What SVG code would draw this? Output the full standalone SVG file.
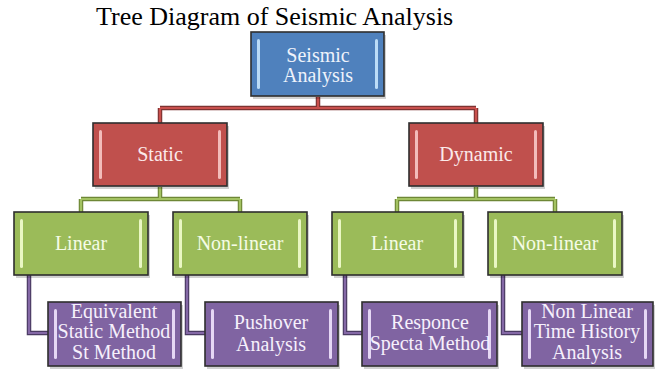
<svg xmlns="http://www.w3.org/2000/svg" width="657" height="372" viewBox="0 0 657 372" font-family="'Liberation Serif', 'Times New Roman', serif">
<style>
  .lbl { font-family: "Liberation Serif", "Times New Roman", serif; font-size: 20px; text-anchor: middle; }
  .title { font-family: "Liberation Serif", "Times New Roman", serif; font-size: 26px; fill: #000; }
  .box { stroke: #2e2e2e; stroke-width: 1.6; }
  .shadow { fill: #000; opacity: 0.18; }
  .blue { fill: #4f81bd; }
  .red { fill: #c0504d; }
  .green { fill: #9bbb59; }
  .purple { fill: #8064a2; }
  .hl-blue { fill: #bcdcf7; }
  .hl-red { fill: #f3bcba; }
  .hl-green { fill: #eaf7c4; }
  .hl-purple { fill: #e6d8f5; }
  .t-blue { fill: #eef3fb; }
  .t-red { fill: #fbeaea; }
  .t-green { fill: #f5fbe6; }
  .t-purple { fill: #f6f0fc; }
  .c-under { fill: none; stroke-width: 4.5; }
  .c-over { fill: none; stroke-width: 2.2; }
</style>

<text class="title" x="96" y="25" font-family="'Liberation Serif', serif">Tree Diagram of Seismic Analysis</text>

<g id="connectors">
  <path class="c-under" stroke="#7d3331" d="M318 97 V108 M160 108 H476 M160 108 V123 M476 108 V123"/>
  <path class="c-over" stroke="#c9504d" d="M318 97 V108 M160 108 H476 M160 108 V123 M476 108 V123"/>
  <path class="c-under" stroke="#6e8736" d="M160 187 V199 M81 199 H240 M81 199 V212 M240 199 V212 M476 187 V199 M397 199 H555 M397 199 V212 M555 199 V212"/>
  <path class="c-over" stroke="#a3c262" d="M160 187 V199 M81 199 H240 M81 199 V212 M240 199 V212 M476 187 V199 M397 199 H555 M397 199 V212 M555 199 V212"/>
  <path class="c-under" stroke="#4a3a62" d="M29 275 V333 H48 M187 275 V333 H205 M345 275 V333 H362 M503 275 V333 H522"/>
  <path class="c-over" stroke="#8468a6" d="M29 275 V333 H48 M187 275 V333 H205 M345 275 V333 H362 M503 275 V333 H522"/>
</g>

<g id="seismic" font-family="'Liberation Serif', serif">
  <rect class="shadow" x="253" y="35" width="133" height="64"/>
  <rect class="box blue" x="251" y="32" width="133" height="64"/>
  <rect class="hl-blue" x="257" y="39" width="3" height="50" rx="1.5"/>
  <rect class="hl-blue" x="375" y="39" width="3" height="50" rx="1.5"/>
  <text class="lbl t-blue" x="318" y="62">Seismic</text>
  <text class="lbl t-blue" x="318" y="82">Analysis</text>
</g>

<g id="static" font-family="'Liberation Serif', serif">
  <rect class="shadow" x="95" y="126" width="134" height="63"/>
  <rect class="box red" x="93" y="123" width="134" height="63"/>
  <rect class="hl-red" x="99" y="130" width="3" height="49" rx="1.5"/>
  <rect class="hl-red" x="218" y="130" width="3" height="49" rx="1.5"/>
  <text class="lbl t-red" x="160" y="161">Static</text>
</g>

<g id="dynamic" font-family="'Liberation Serif', serif">
  <rect class="shadow" x="411" y="126" width="134" height="63"/>
  <rect class="box red" x="409" y="123" width="134" height="63"/>
  <rect class="hl-red" x="415" y="130" width="3" height="49" rx="1.5"/>
  <rect class="hl-red" x="534" y="130" width="3" height="49" rx="1.5"/>
  <text class="lbl t-red" x="476" y="161">Dynamic</text>
</g>

<g id="static-linear" font-family="'Liberation Serif', serif">
  <rect class="shadow" x="16" y="215" width="134" height="63"/>
  <rect class="box green" x="14" y="212" width="134" height="63"/>
  <rect class="hl-green" x="20" y="219" width="3" height="49" rx="1.5"/>
  <rect class="hl-green" x="139" y="219" width="3" height="49" rx="1.5"/>
  <text class="lbl t-green" x="81" y="250">Linear</text>
</g>

<g id="static-nonlinear" font-family="'Liberation Serif', serif">
  <rect class="shadow" x="175" y="215" width="134" height="63"/>
  <rect class="box green" x="173" y="212" width="134" height="63"/>
  <rect class="hl-green" x="179" y="219" width="3" height="49" rx="1.5"/>
  <rect class="hl-green" x="298" y="219" width="3" height="49" rx="1.5"/>
  <text class="lbl t-green" x="240" y="250">Non-linear</text>
</g>

<g id="dynamic-linear" font-family="'Liberation Serif', serif">
  <rect class="shadow" x="334" y="215" width="131" height="63"/>
  <rect class="box green" x="332" y="212" width="131" height="63"/>
  <rect class="hl-green" x="338" y="219" width="3" height="49" rx="1.5"/>
  <rect class="hl-green" x="454" y="219" width="3" height="49" rx="1.5"/>
  <text class="lbl t-green" x="397" y="250">Linear</text>
</g>

<g id="dynamic-nonlinear" font-family="'Liberation Serif', serif">
  <rect class="shadow" x="490" y="215" width="134" height="63"/>
  <rect class="box green" x="488" y="212" width="134" height="63"/>
  <rect class="hl-green" x="494" y="219" width="3" height="49" rx="1.5"/>
  <rect class="hl-green" x="613" y="219" width="3" height="49" rx="1.5"/>
  <text class="lbl t-green" x="555" y="250">Non-linear</text>
</g>

<g id="equivalent-static" font-family="'Liberation Serif', serif">
  <rect class="shadow" x="50" y="305" width="133" height="64"/>
  <rect class="box purple" x="48" y="302" width="133" height="64"/>
  <rect class="hl-purple" x="54" y="309" width="3" height="50" rx="1.5"/>
  <rect class="hl-purple" x="172" y="309" width="3" height="50" rx="1.5"/>
  <text class="lbl t-purple" x="114" y="318">Equivalent</text>
  <text class="lbl t-purple" x="114" y="338">Static Method</text>
  <text class="lbl t-purple" x="114" y="359">St Method</text>
</g>

<g id="pushover" font-family="'Liberation Serif', serif">
  <rect class="shadow" x="207" y="305" width="133" height="64"/>
  <rect class="box purple" x="205" y="302" width="133" height="64"/>
  <rect class="hl-purple" x="211" y="309" width="3" height="50" rx="1.5"/>
  <rect class="hl-purple" x="329" y="309" width="3" height="50" rx="1.5"/>
  <text class="lbl t-purple" x="271" y="329">Pushover</text>
  <text class="lbl t-purple" x="271" y="351">Analysis</text>
</g>

<g id="response-spectra" font-family="'Liberation Serif', serif">
  <rect class="shadow" x="364" y="305" width="135" height="64"/>
  <rect class="box purple" x="362" y="302" width="135" height="64"/>
  <rect class="hl-purple" x="368" y="309" width="3" height="50" rx="1.5"/>
  <rect class="hl-purple" x="488" y="309" width="3" height="50" rx="1.5"/>
  <text class="lbl t-purple" x="430" y="329">Responce</text>
  <text class="lbl t-purple" x="430" y="350">Specta Method</text>
</g>

<g id="time-history" font-family="'Liberation Serif', serif">
  <rect class="shadow" x="524" y="305" width="131" height="64"/>
  <rect class="box purple" x="522" y="302" width="131" height="64"/>
  <rect class="hl-purple" x="528" y="309" width="3" height="50" rx="1.5"/>
  <rect class="hl-purple" x="644" y="309" width="3" height="50" rx="1.5"/>
  <text class="lbl t-purple" x="587" y="318">Non Linear</text>
  <text class="lbl t-purple" x="587" y="338">Time History</text>
  <text class="lbl t-purple" x="587" y="359">Analysis</text>
</g>
</svg>
